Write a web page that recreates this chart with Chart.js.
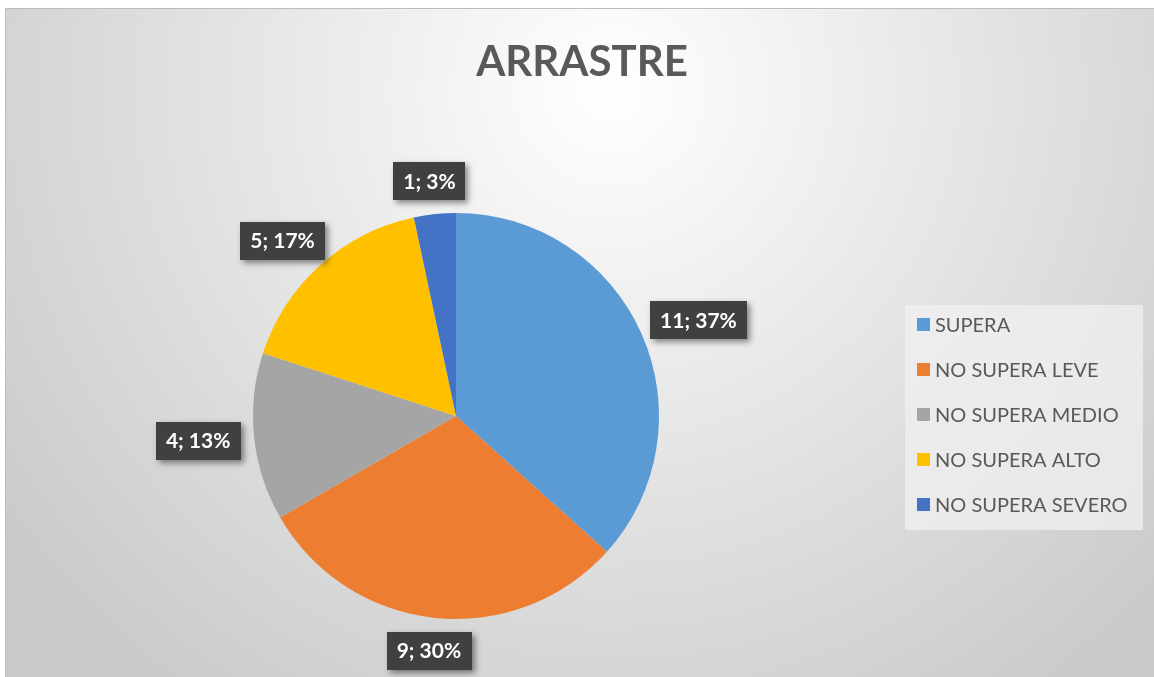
<!DOCTYPE html>
<html>
<head>
<meta charset="utf-8">
<script src="https://cdn.jsdelivr.net/npm/chart.js@4"></script>
<style>
  html, body { margin: 0; padding: 0; background: #fff; }
  #wrap { width: 1154px; height: 677px; position: relative; }
</style>
</head>
<body>
<div id="wrap"><canvas id="pieChart" width="1154" height="677"></canvas></div>
<script>
const chartTitle = "ARRASTRE";
const categories = ["SUPERA", "NO SUPERA LEVE", "NO SUPERA MEDIO", "NO SUPERA ALTO", "NO SUPERA SEVERO"];
const counts = [11, 9, 4, 5, 1];
const sliceColors = ["#5B9BD5", "#ED7D31", "#A5A5A5", "#FFC000", "#4472C4"];

const FONT = "Lato, 'Open Sans', sans-serif";

// =======================
// Background + frame
// =======================
const backgroundPlugin = {
  id: "bg",
  beforeDraw(chart) {
    const ctx = chart.ctx;
    ctx.save();
    ctx.fillStyle = "#ffffff";
    ctx.fillRect(0, 0, chart.width, chart.height);
    const g = ctx.createRadialGradient(610, 90, 0, 610, 90, 760);
    g.addColorStop(0, "#ffffff");
    g.addColorStop(0.35, "#ececec");
    g.addColorStop(1, "#c9c9c9");
    ctx.fillStyle = g;
    ctx.fillRect(5, 8, chart.width - 5, chart.height - 8);
    ctx.strokeStyle = "#bcbcbc";
    ctx.lineWidth = 1;
    ctx.beginPath();
    ctx.moveTo(5.5, chart.height);
    ctx.lineTo(5.5, 8.5);
    ctx.lineTo(chart.width, 8.5);
    ctx.stroke();
    ctx.restore();
  }
};

// =======================
// Title + legend + data labels
// =======================
const overlayPlugin = {
  id: "overlay",
  afterDraw(chart) {
    const ctx = chart.ctx;
    ctx.save();

    // title
    ctx.fillStyle = "#595959";
    ctx.font = "bold 42px " + FONT;
    ctx.textAlign = "center";
    ctx.textBaseline = "middle";
    ctx.fillText(chartTitle, 582, 62);

    // legend
    ctx.fillStyle = "rgba(240,240,240,0.75)";
    ctx.fillRect(905, 305, 238, 225);
    ctx.font = "20px " + FONT;
    ctx.textAlign = "left";
    categories.forEach((c, i) => {
      const y = 325 + i * 45;
      ctx.fillStyle = sliceColors[i];
      ctx.fillRect(917, y - 7, 13, 13);
      ctx.fillStyle = "#595959";
      ctx.fillText(c, 935, y + 1);
    });

    // data labels
    const meta = chart.getDatasetMeta(0);
    const total = counts.reduce((s, v) => s + v, 0);
    ctx.font = "bold 21px " + FONT;
    meta.data.forEach((arc, i) => {
      const p = arc.getProps(["x", "y", "startAngle", "endAngle", "outerRadius"], true);
      const mid = (p.startAngle + p.endAngle) / 2;
      const ux = Math.cos(mid), uy = Math.sin(mid);
      const text = counts[i] + "; " + Math.round(counts[i] / total * 100) + "%";
      const w = ctx.measureText(text).width + 20;
      const h = 38;
      const ax = p.x + (p.outerRadius + 14) * ux;
      const ay = p.y + (p.outerRadius + 14) * uy;
      const cx = ax + ux * w / 2;
      const cy = ay + uy * h / 2;
      ctx.save();
      ctx.shadowColor = "rgba(0,0,0,0.45)";
      ctx.shadowBlur = 6;
      ctx.shadowOffsetX = 3;
      ctx.shadowOffsetY = 3;
      ctx.fillStyle = "#404040";
      ctx.fillRect(Math.round(cx - w / 2), Math.round(cy - h / 2), Math.round(w), h);
      ctx.restore();
      ctx.fillStyle = "#ffffff";
      ctx.textAlign = "center";
      ctx.textBaseline = "middle";
      ctx.fillText(text, cx, cy + 1);
    });
    ctx.restore();
  }
};

const pieChart = new Chart(document.getElementById("pieChart").getContext("2d"), {
  type: "pie",
  data: {
    labels: categories,
    datasets: [{ data: counts, backgroundColor: sliceColors, borderWidth: 0 }]
  },
  options: {
    responsive: false,
    animation: false,
    layout: { padding: { top: 213, bottom: 58, left: 0, right: 242 } },
    plugins: {
      legend: { display: false },
      title: { display: false },
      tooltip: { enabled: false }
    }
  },
  plugins: [backgroundPlugin, overlayPlugin]
});
</script>
</body>
</html>
